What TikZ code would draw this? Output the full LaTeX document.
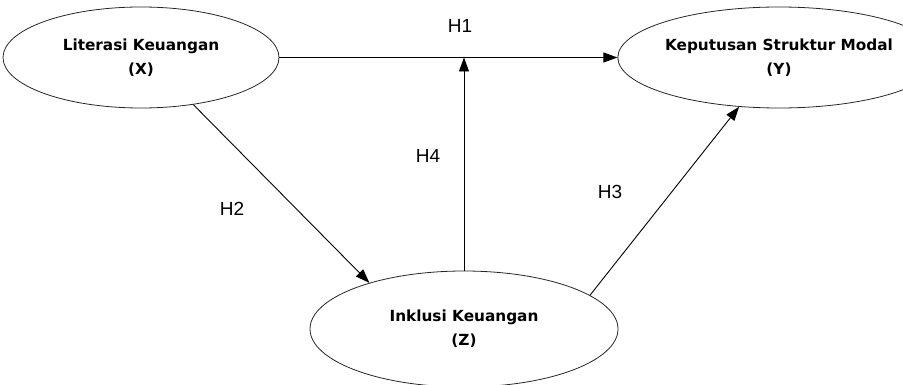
\documentclass[tikz,border=0pt]{standalone}
\usepackage{fontspec}
\newfontfamily\varfont{DejaVu Sans}
\newfontfamily\hypfont{Liberation Sans}
\usetikzlibrary{shapes.geometric}
\usetikzlibrary{arrows.meta}
\tikzset{var/.style={draw=black!85, line width=0.8pt, ellipse, inner sep=0pt, align=center, font=\varfont\bfseries\fontsize{15.3}{24}\selectfont}}
\tikzset{hyp/.style={inner sep=0pt, font=\hypfont\fontsize{19}{22}\selectfont}}

\begin{document}
\begin{tikzpicture}[x=1pt, y=-1pt, link/.style={line width=0.9pt, -{Triangle[length=14pt,width=10pt]}}]
				\useasboundingbox (0,0) rectangle (903,385);
				\node (X)[var, minimum width=276pt, minimum height=101pt] at (141,57.5){Literasi Keuangan\\(X)};
				\node (Y)[var, minimum width=274pt, minimum height=101pt] at (779,57.5){Keputusan Struktur Modal\\(Y)};
				\node (Z)[var, minimum width=308pt, minimum height=116pt] at (464,329){Inklusi Keuangan\\(Z)};
				%
				\coordinate (m) at (Z.north |- X.east);
				\draw[link] (X.east) -- (Y.west);
				\draw[link] (X.-42) -- (Z.154);
				\draw[link] (Z.15) -- (Y.231);
				\draw[link] (Z.north) -- (m);
				%
				\node (h1)[hyp] at (460,26){H1};
				\node (h2)[hyp] at (232,209){H2};
				\node (h3)[hyp] at (610,192){H3};
				\node (h4)[hyp] at (428,156){H4};
			\end{tikzpicture}
\end{document}
